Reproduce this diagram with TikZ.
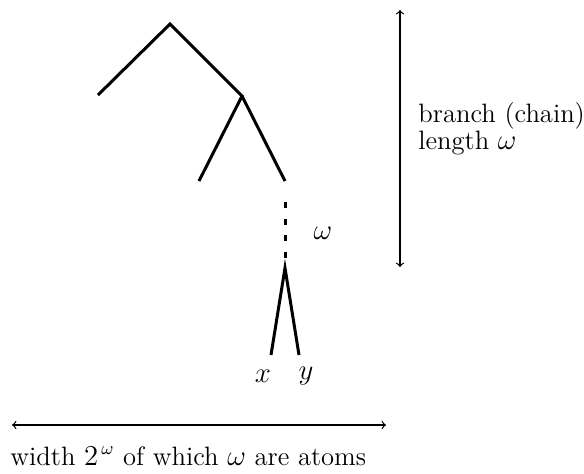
\documentclass[tikz,border=0pt]{standalone}
\usepackage{tikz}

\begin{document}
\begin{tikzpicture}[x=0.5pt,y=-0.5pt,>=to,font=\fontsize{13.3}{16}\selectfont]
\tikzset{edge/.style={line width=1.5pt},
  measure/.style={<->,line width=0.6pt},
  lab/.style={anchor=base west,inner sep=0pt}}
\useasboundingbox (0,0) rectangle (584,473);
% the tree
\coordinate (root) at (170,24);
\coordinate (lleaf) at (98,95);
\coordinate (rnode) at (242,96);
\coordinate (rlleaf) at (199,181);
\coordinate (rrnode) at (285,181);
\coordinate (dtop) at (285,202);
\coordinate (dbot) at (285,258);
\coordinate (apex) at (285,268);
\coordinate (xleaf) at (271,355);
\coordinate (yleaf) at (299,355);
\draw[edge] (lleaf) -- (root) -- (rnode) -- (rlleaf);
\draw[edge] (rnode) -- (rrnode);
\draw[edge,dash pattern=on 3pt off 5.35pt] (dtop) -- (dbot);
\draw[edge] (xleaf) -- (apex) -- (yleaf);
\node (om) at (323,233) {$\omega$};
\node (xl) at (263,376) {$x$};
\node (yl) at (306,376) {$y$};
% measures
\coordinate (vtop) at (400,10);
\coordinate (vbot) at (400,267);
\draw[measure] (vtop) -- (vbot);
\node[lab] (branch) at (418,122) {branch (chain)};
\node[lab] (length) at (418,149) {length $\omega$};
\coordinate (hleft) at (12,425);
\coordinate (hright) at (386,425);
\draw[measure] (hleft) -- (hright);
\node[lab] (width) at (10,465) {width $2^{\,\omega}$\ of which $\omega$\ are atoms};
\end{tikzpicture}
\end{document}
